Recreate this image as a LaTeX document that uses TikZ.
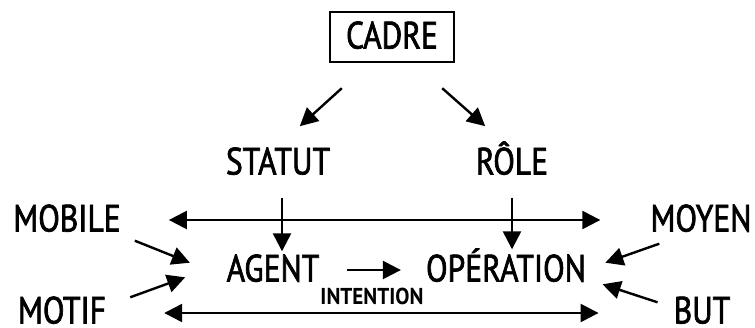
\documentclass[tikz,border=0pt]{standalone}
\usepackage{fontspec}
\setmainfont[FakeStretch=0.83,FakeBold=1.8]{PT Sans}
\newfontfamily\tagfont[FakeStretch=0.92]{PT Sans}
\usetikzlibrary{arrows.meta}

\begin{document}
\begin{tikzpicture}[x=0.5pt, y=-0.5pt,
    txt/.style={inner sep=0pt, text height=11.5pt, text depth=0pt,
      font=\fontsize{19}{22}\selectfont},
    small/.style={inner sep=0pt, text height=7.5pt, text depth=0pt,
      font=\tagfont\fontsize{11.5}{13}\selectfont\bfseries},
    every path/.style={line width=1.2pt},
    >={Triangle[length=9pt,width=9pt]}]
\useasboundingbox (0,0) rectangle (755,327);
  % the frame and the two sides
  \node[txt, draw, minimum width=62pt, minimum height=25pt] (cadre) at (392,37) {CADRE};
  \node[txt] (statut) at (278,163) {STATUT};
  \node[txt] (role) at (512,163) {RÔLE};
  % the action
  \node[txt] (agent) at (273,270) {AGENT};
  \node[txt] (operation) at (506,270) {OPÉRATION};
  \node[small] (intention) at (372,297) {INTENTION};
  % what surrounds it
  \node[txt] (mobile) at (67,220) {MOBILE};
  \node[txt] (moyen) at (701,220) {MOYEN};
  \node[txt] (motif) at (62,312) {MOTIF};
  \node[txt] (but) at (702,312) {BUT};

  \draw[->] ([shift={(13,25)}]cadre.south west) -- ++(-42,38);
  \draw[->] ([shift={(-13,25)}]cadre.south east) -- ++(43,38);
  \draw[->, shorten <=11pt, shorten >=3pt] ([shift={(4,0)}]statut.south) -- ([shift={(4,0)}]statut.south |- agent.north);
  \draw[->, shorten <=11pt, shorten >=4pt] (role.south) -- (role.south |- operation.north);
  \draw[->, shorten <=13pt, shorten >=12pt] (agent) -- (operation);
  \draw[<->, shorten <=23.5pt, shorten >=24.5pt] (mobile) -- (moyen);
  \draw[<->, shorten <=28.5pt, shorten >=37pt] ([shift={(0,1)}]motif.east) -- ([shift={(0,1)}]but.west);
  \draw[->] ([shift={(13,8)}]mobile.south east) -- ++(55,22);
  \draw[->] ([shift={(23,-2)}]motif.north east) -- ++(55,-20);
  \draw[->] ([shift={(10,11)}]moyen.south west) -- ++(-54,19);
  \draw[->] ([shift={(-15,3)}]but.north west) -- ++(-55,-18);
\end{tikzpicture}
\end{document}
